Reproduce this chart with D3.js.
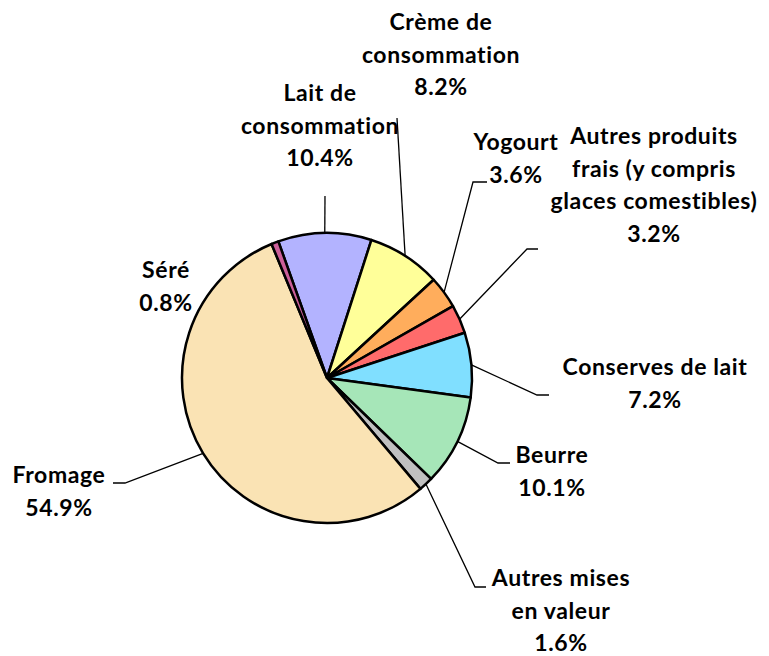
<!doctype html>
<html>
<head>
<meta charset="utf-8">
<script src="https://cdn.jsdelivr.net/npm/d3@7"></script>
<style>
  body { margin: 0; background: #fff; }
  .chart { font-family: Lato, 'Open Sans', sans-serif; }
  .lbl {
    font-size: 23px; font-weight: 700; fill: #000;
    letter-spacing: 0.6px; font-variant-ligatures: none;
  }
</style>
</head>
<body>
<svg class="chart"></svg>
<script>
  // data, clockwise from the top
  const categories = ["Lait de consommation", "Crème de consommation", "Yogourt",
    "Autres produits frais (y compris glaces comestibles)", "Conserves de lait",
    "Beurre", "Autres mises en valeur", "Fromage", "Séré"]
  const shares = [10.4, 8.2, 3.6, 3.2, 7.2, 10.1, 1.6, 54.9, 0.8]
  const labelLines = [
    ["Lait de", "consommation", "10.4%"],
    ["Crème de", "consommation", "8.2%"],
    ["Yogourt", "3.6%"],
    ["Autres produits", "frais (y compris", "glaces comestibles)", "3.2%"],
    ["Conserves de lait", "7.2%"],
    ["Beurre", "10.1%"],
    ["Autres mises", "en valeur", "1.6%"],
    ["Fromage", "54.9%"],
    ["Séré", "0.8%"]
  ]
  const colors = ["#b3b3ff", "#ffff99", "#ffad5c", "#ff6b6b", "#80dfff",
                  "#a6e6b8", "#c0c0c0", "#fae3b4", "#cc5f99"]

  // label layout: text centre x, first baseline y, elbow of leader, end of short horizontal
  const labelPos = [
    { x: 320, y: 101, elbow: [325, 196], end: null },
    { x: 441, y: 30,  elbow: [397, 118], end: null },
    { x: 516, y: 150, elbow: [473, 182], end: 487 },
    { x: 654, y: 144, elbow: [527, 249], end: 538 },
    { x: 655, y: 375, elbow: [537, 395], end: 549 },
    { x: 552, y: 463, elbow: [498, 463], end: 510 },
    { x: 561, y: 586, elbow: [475, 587], end: 486 },
    { x: 59,  y: 483, elbow: [125, 483], end: 113 },
    { x: 166, y: 278, elbow: null, end: null }
  ]
  const lineH = 32.5

  const W = 769, H = 656
  const cx = 327, cy = 378, radius = 145
  const start = -19.6 * Math.PI / 180

  const svg = d3.select(".chart").attr("width", W).attr("height", H)

  const pie = d3.pie().sort(null).value(d => d)
    .startAngle(start).endAngle(start + 2 * Math.PI)
  const arcs = pie(shares)
  const arc = d3.arc().innerRadius(0).outerRadius(radius)

  const g = svg.append("g").attr("transform", "translate(" + cx + "," + cy + ")")

  g.selectAll("path.slice")
    .data(arcs)
    .enter().append("path")
      .attr("class", "slice")
      .attr("d", arc)
      .attr("fill", (d, i) => colors[i])
      .attr("stroke", "#000")
      .attr("stroke-width", 2.5)
      .attr("stroke-linejoin", "round")

  // leader lines
  arcs.forEach((a, i) => {
    const p = labelPos[i]
    if (!p.elbow) return
    const mid = (a.startAngle + a.endAngle) / 2
    const x0 = cx + radius * Math.sin(mid), y0 = cy - radius * Math.cos(mid)
    const pts = [[x0, y0], p.elbow]
    if (p.end !== null) pts.push([p.end, p.elbow[1]])
    svg.append("path")
      .attr("d", d3.line()(pts))
      .attr("fill", "none")
      .attr("stroke", "#000")
      .attr("stroke-width", 1.3)
  })

  // labels
  labelLines.forEach((lines, i) => {
    const p = labelPos[i]
    const t = svg.append("text").attr("class", "lbl")
      .attr("text-anchor", "middle")
    lines.forEach((s, j) => {
      t.append("tspan").attr("x", p.x).attr("y", p.y + j * lineH).text(s)
    })
  })
</script>
</body>
</html>
